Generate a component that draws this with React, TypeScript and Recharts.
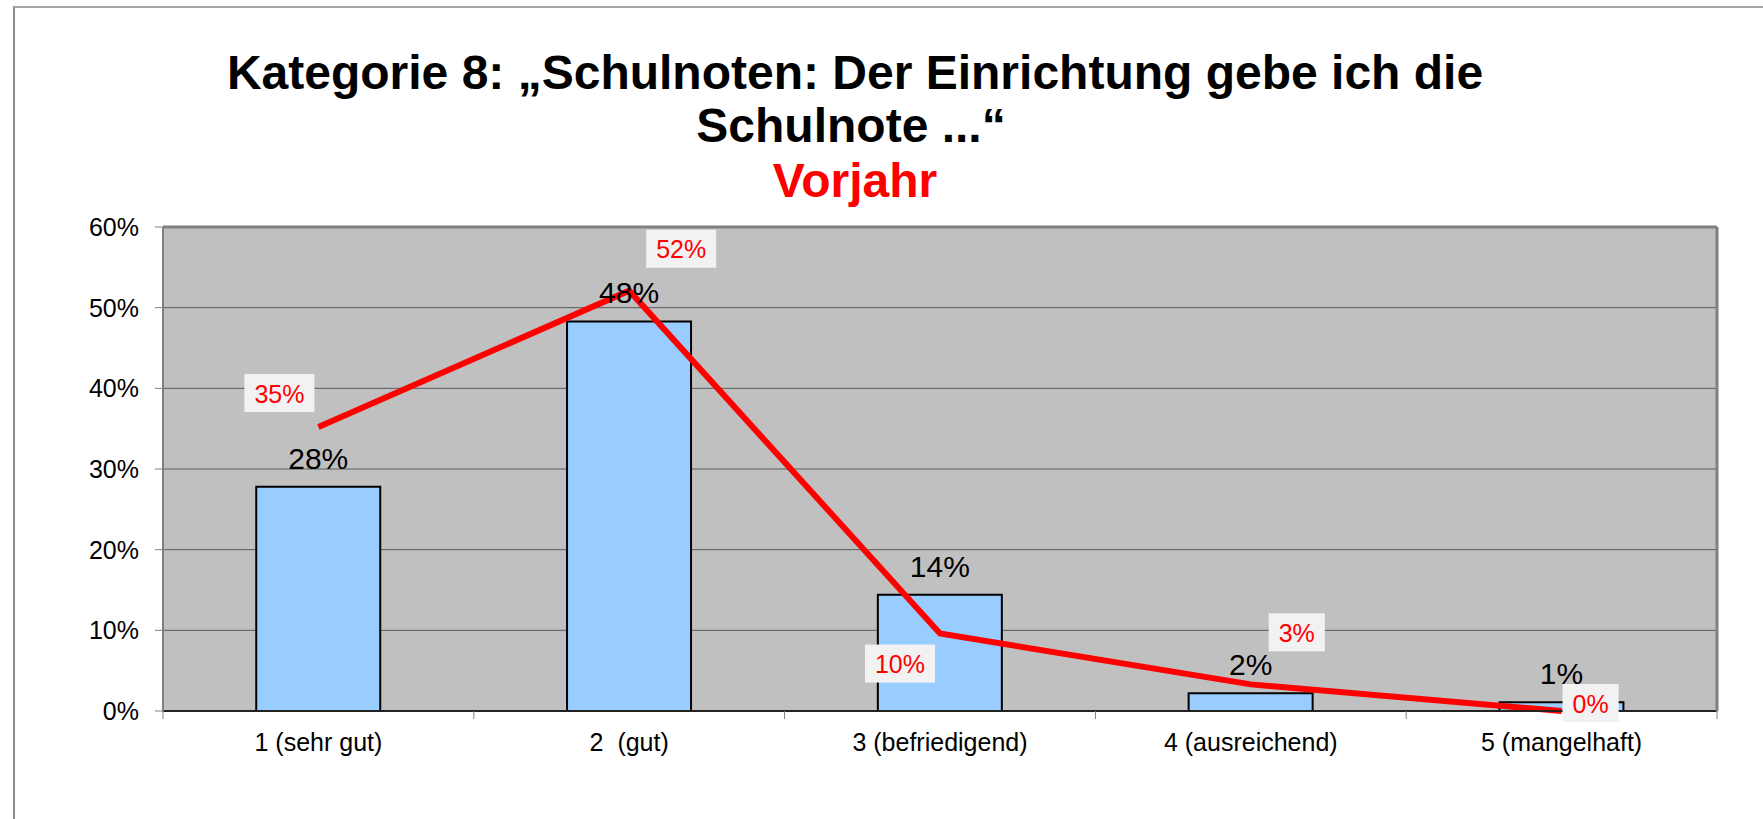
import React from "react";
import {
  ComposedChart,
  Bar,
  Line,
  XAxis,
  YAxis,
  CartesianGrid,
  LabelList,
  ReferenceLine,
} from "recharts";

const categories = ["1 (sehr gut)", "2  (gut)", "3 (befriedigend)", "4 (ausreichend)", "5 (mangelhaft)"];
const currentYear = [0.278, 0.483, 0.144, 0.022, 0.011];
const previousYear = [0.352, 0.521, 0.096, 0.033, 0.0];
const yTicks = [0, 0.1, 0.2, 0.3, 0.4, 0.5, 0.6];
const titleLines = ["Kategorie 8: \u201ESchulnoten: Der Einrichtung gebe ich die", "Schulnote ...\u201C"];
const subtitle = "Vorjahr";
// label placement (dx, dy) of the previous-year data labels, relative to their point
const lineLabelOffsets = [
  [-39, -34],
  [52, -42],
  [-40, 30],
  [46, -52],
  [29, -8],
];

const data = categories.map((name, i) => ({
  name,
  current: currentYear[i],
  previous: previousYear[i],
}));

const FONT = "'Liberation Sans', Arial, Helvetica, sans-serif";
const pct = (v: number) => `${Math.round(v * 100)}%`;

const approxWidth = (s: string, size: number) => {
  let w = 0;
  for (const ch of s) w += ch === "%" ? 0.889 : 0.556;
  return w * size;
};

const PrevLabel = (props: any) => {
  const { x, y, value, index } = props;
  if (x == null || y == null) return null;
  const off = lineLabelOffsets[index] || [0, 0];
  const text = pct(Number(value));
  const w = approxWidth(text, 25) + 20;
  const h = 38;
  const cx = Number(x) + off[0];
  const cy = Number(y) + off[1];
  return (
    <g>
      <rect x={cx - w / 2} y={cy - h / 2} width={w} height={h} fill="#F2F2F2" />
      <text x={cx} y={cy + 9.5} textAnchor="middle" fontSize={25} fontFamily={FONT} fill="#FF0000">
        {text}
      </text>
    </g>
  );
};

const TICK_SIZE = 8;
const TICK_MARGIN = 14;

const XTick = (props: any) => {
  const { x, y, payload, index, visibleTicksCount } = props;
  const off = payload && payload.offset ? payload.offset : 0;
  const axisY = y - TICK_SIZE - TICK_MARGIN;
  const label = String(payload.value).replace(/  /g, "\u00A0 ");
  return (
    <g>
      <line x1={x - off} x2={x - off} y1={axisY} y2={axisY + TICK_SIZE} stroke="#808080" strokeWidth={1} />
      {index === visibleTicksCount - 1 && (
        <line x1={x + off} x2={x + off} y1={axisY} y2={axisY + TICK_SIZE} stroke="#808080" strokeWidth={1} />
      )}
      <text x={x} y={y} dy={17.8} textAnchor="middle" fontSize={25} fontFamily={FONT} fill="#000" style={{ whiteSpace: "pre" }}>
        {label}
      </text>
    </g>
  );
};

export default function App() {
  return (
    <div style={{ position: "absolute", left: 0, top: 0, width: 1763, height: 819, background: "#fff", overflow: "hidden", fontFamily: FONT }}>
      <div
        style={{
          position: "absolute",
          left: 13,
          top: 6,
          width: 1800,
          height: 900,
          borderTop: "2px solid #a6a6a6",
          borderLeft: "2px solid #8c8c8c",
        }}
      />
      <svg width={1763} height={230} style={{ position: "absolute", left: 0, top: 0 }}>
        <text x={855} y={88.5} textAnchor="middle" fontSize={48} fontWeight="bold" fontFamily={FONT} fill="#000">
          {titleLines[0]}
        </text>
        <text x={851} y={142} textAnchor="middle" fontSize={48} fontWeight="bold" fontFamily={FONT} fill="#000">
          {titleLines[1]}
        </text>
        <text x={855} y={197} textAnchor="middle" fontSize={48} fontWeight="bold" fontFamily={FONT} fill="#FF0000">
          {subtitle}
        </text>
      </svg>
      <div style={{ position: "absolute", left: 0, top: 0 }}>
        <ComposedChart
          width={1763}
          height={819}
          data={data}
          margin={{ top: 227, right: 45, bottom: 68, left: 93 }}
          barCategoryGap="30%"
        >
          <CartesianGrid vertical={false} horizontal stroke="#5a5a5a" strokeWidth={1} fill="#C0C0C0" fillOpacity={1} />
          <XAxis
            dataKey="name"
            height={40}
            axisLine={{ stroke: "#222", strokeWidth: 2 }}
            tickLine={false}
            tickSize={TICK_SIZE}
            tickMargin={TICK_MARGIN}
            tick={<XTick />}
            interval={0}
          />
          <YAxis
            width={70}
            domain={[0, 0.6]}
            ticks={yTicks}
            tickFormatter={pct}
            axisLine={{ stroke: "#808080", strokeWidth: 2 }}
            tickLine={{ stroke: "#808080" }}
            tickSize={TICK_SIZE}
            tickMargin={16}
            tick={{ fontSize: 25, fill: "#000", fontFamily: FONT }}
            interval={0}
          />
          <YAxis
            yAxisId="r"
            orientation="right"
            width={1}
            domain={[0, 0.6]}
            tick={false}
            tickLine={false}
            axisLine={{ stroke: "#808080", strokeWidth: 3 }}
          />
          <ReferenceLine y={0.6} stroke="#808080" strokeWidth={3} />
          <Bar dataKey="current" fill="#99CCFF" stroke="#000" strokeWidth={2} isAnimationActive={false}>
            <LabelList
              dataKey="current"
              position="top"
              offset={18}
              formatter={(v: any) => pct(Number(v))}
              style={{ fontSize: 30, fill: "#000", fontFamily: FONT }}
            />
          </Bar>
          <Line
            type="linear"
            dataKey="previous"
            stroke="#FF0000"
            strokeWidth={6}
            dot={false}
            activeDot={false}
            isAnimationActive={false}
          >
            <LabelList dataKey="previous" content={<PrevLabel />} />
          </Line>
        </ComposedChart>
      </div>
    </div>
  );
}
